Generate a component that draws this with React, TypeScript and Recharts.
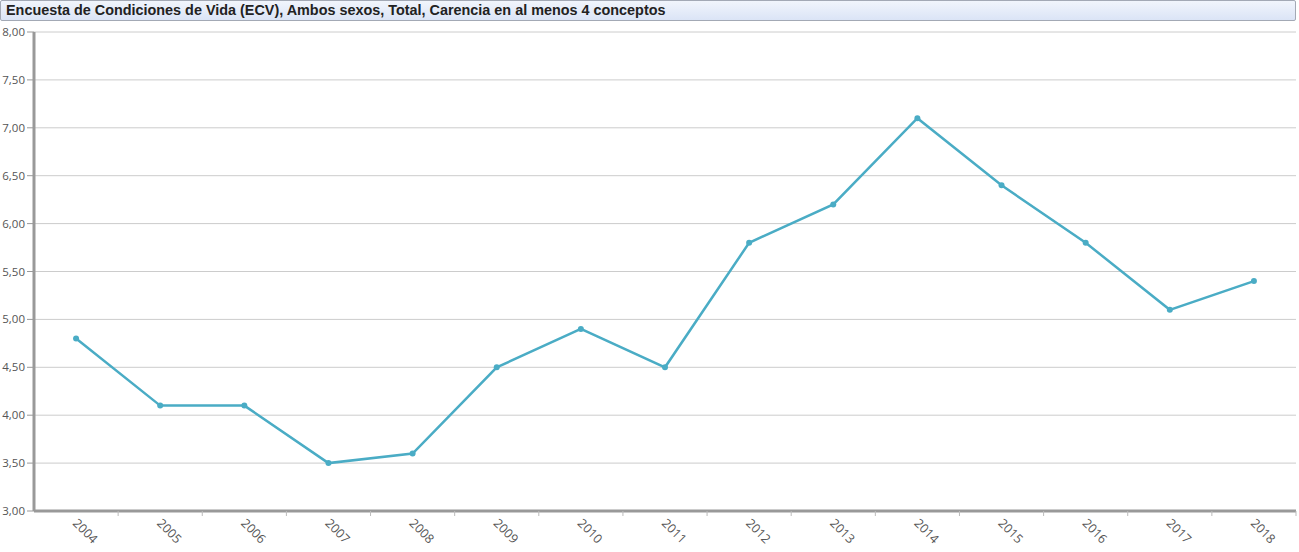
import React from 'react';
import { LineChart, Line, XAxis, YAxis, CartesianGrid } from 'recharts';

const years = ['2004','2005','2006','2007','2008','2009','2010','2011','2012','2013','2014','2015','2016','2017','2018'];
const values = [4.8, 4.1, 4.1, 3.5, 3.6, 4.5, 4.9, 4.5, 5.8, 6.2, 7.1, 6.4, 5.8, 5.1, 5.4];
const yTicks = [3, 3.5, 4, 4.5, 5, 5.5, 6, 6.5, 7, 7.5, 8];
const title = 'Encuesta de Condiciones de Vida (ECV), Ambos sexos, Total, Carencia en al menos 4 conceptos';

const data = years.map((y, i) => ({ year: y, value: values[i] }));

const W = 1299;
const H = 552;
const M = { top: 32, right: 3, bottom: 0, left: 0 };
const Y_W = 34;
const X_H = 41;
const PLOT_W = W - M.left - M.right - Y_W;
const BAND = PLOT_W / years.length;

const COLOR = '#4aacc5';
const AXIS = '#999999';

const XTick = (props: any) => {
  const { x, y, payload } = props;
  return (
    <g>
      <line x1={x + BAND / 2} x2={x + BAND / 2} y1={y} y2={y + 5} stroke="#bbbbbb" strokeWidth={1} />
      <text
        x={x - 4}
        y={y + 13}
        transform={`rotate(45, ${x - 4}, ${y + 13})`}
        textAnchor="start"
        fontSize={12.5}
        fontFamily="'Open Sans', sans-serif"
        fill="#555"
      >
        {payload.value}
      </text>
    </g>
  );
};

const fmt = (v: number) => v.toFixed(2).replace('.', ',');

export default function App() {
  return (
    <div style={{ position: 'absolute', left: 0, top: 0, width: W, height: H, background: '#fff' }}>
      <LineChart width={W} height={H} data={data} margin={M}>
        <CartesianGrid horizontal vertical={false} stroke="#cccccc" strokeWidth={1} />
        <XAxis
          dataKey="year"
          scale="band"
          height={X_H}
          interval={0}
          tickSize={0}
          tickMargin={0}
          tickLine={false}
          axisLine={{ stroke: AXIS, strokeWidth: 3 }}
          tick={<XTick />}
        />
        <XAxis
          xAxisId="top"
          dataKey="year"
          scale="band"
          orientation="top"
          height={0}
          tick={false}
          tickLine={false}
          axisLine={{ stroke: AXIS, strokeWidth: 2 }}
        />
        <YAxis
          domain={[3, 8]}
          ticks={yTicks}
          width={Y_W}
          interval={0}
          tickFormatter={fmt}
          tickSize={7}
          tickMargin={2}
          tick={{ fontSize: 11.5, fill: '#555', fontFamily: "'Open Sans', sans-serif" }}
          tickLine={{ stroke: AXIS }}
          axisLine={{ stroke: AXIS, strokeWidth: 3 }}
        />
        <YAxis
          yAxisId="right"
          orientation="right"
          domain={[3, 8]}
          width={0}
          tick={false}
          tickLine={false}
          axisLine={{ stroke: AXIS, strokeWidth: 2 }}
        />
        <Line
          type="linear"
          dataKey="value"
          stroke={COLOR}
          strokeWidth={2.5}
          dot={{ r: 3, fill: COLOR, stroke: COLOR, strokeWidth: 0 }}
          activeDot={false}
          isAnimationActive={false}
        />
      </LineChart>
      <div
        style={{
          position: 'absolute',
          left: 0,
          top: 0,
          width: W - 3,
          height: 21,
          border: '1px solid #a3a9b5',
          borderRadius: 2,
          background: 'linear-gradient(#f1f5fc, #dbe4f6)',
          fontFamily: "'Liberation Sans', Arial, sans-serif",
          fontWeight: 'bold',
          fontSize: 14.4,
          lineHeight: '19px',
          color: '#222',
          paddingLeft: 5,
          boxSizing: 'border-box',
          whiteSpace: 'nowrap',
        }}
      >
        {title}
      </div>
    </div>
  );
}
